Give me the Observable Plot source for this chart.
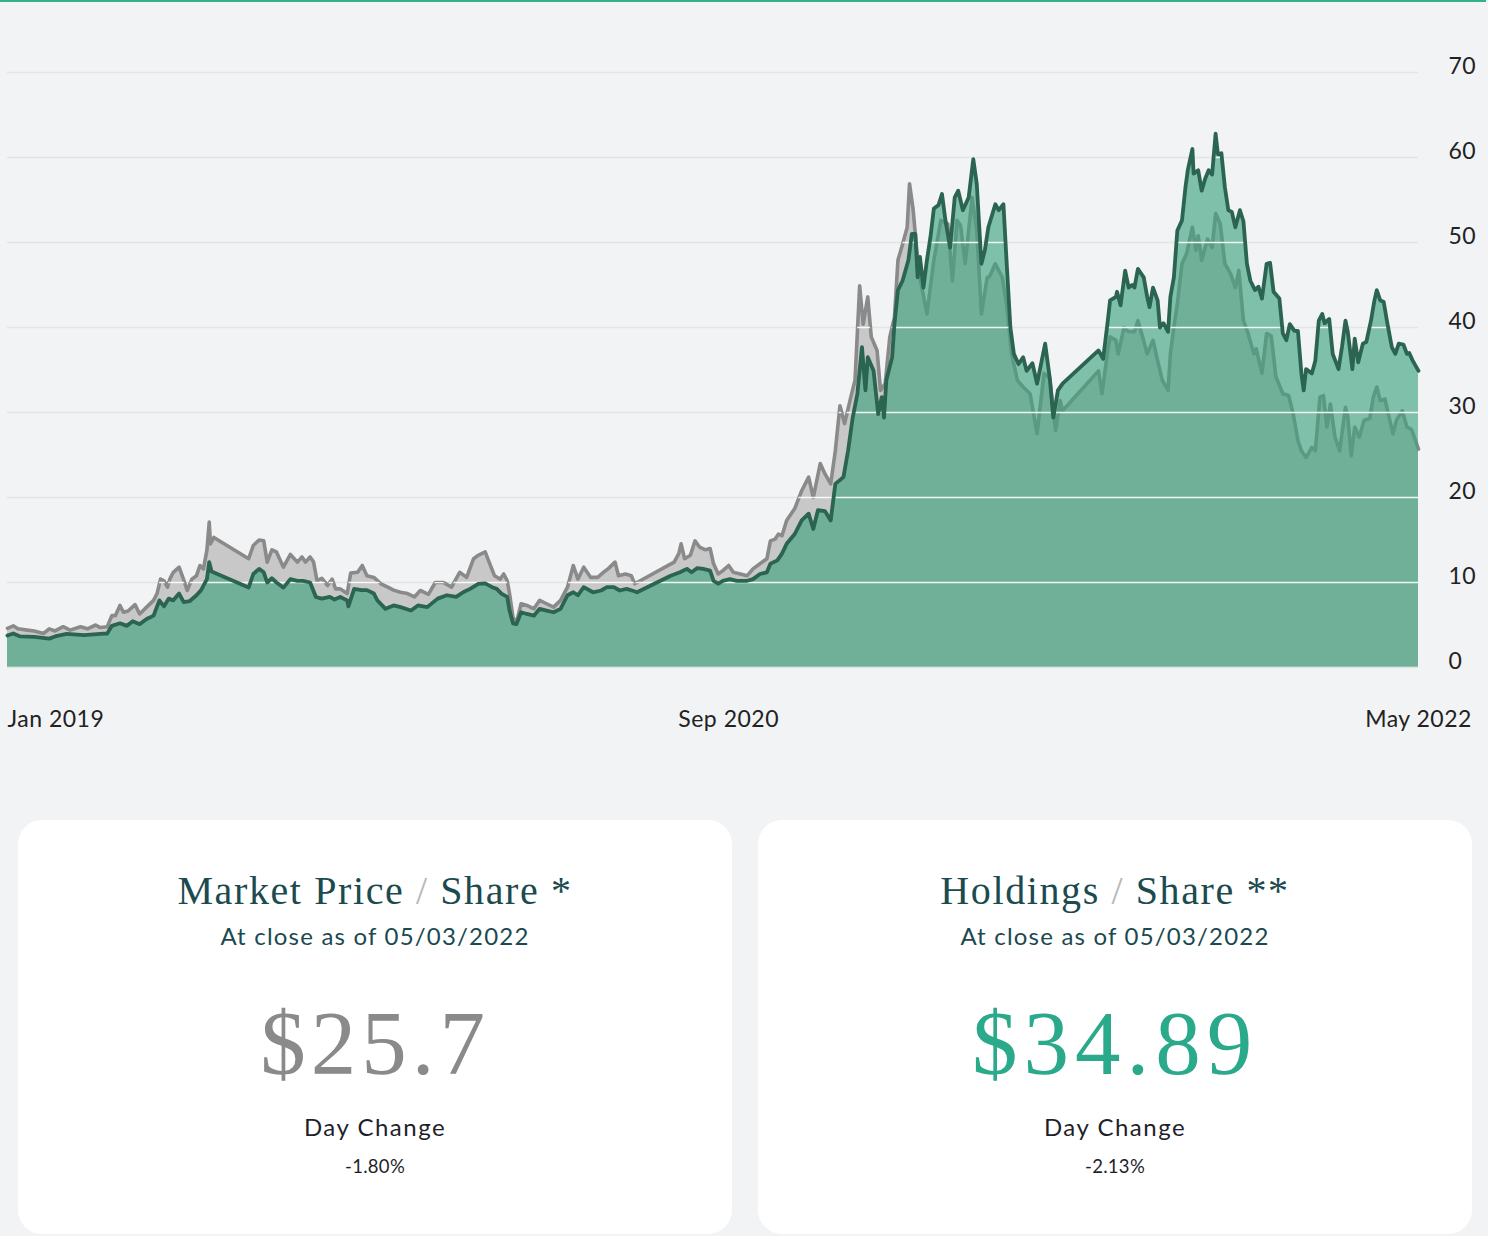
<!DOCTYPE html>
<html>
<head>
<meta charset="utf-8">
<script src="https://cdn.jsdelivr.net/npm/d3@7"></script>
<script src="https://cdn.jsdelivr.net/npm/@observablehq/plot@0.6"></script>
<style>
html, body { margin: 0; padding: 0; background: #f2f3f5; }
body { width: 1488px; height: 1236px; position: relative; overflow: hidden; font-family: Lato, sans-serif; }
#topline { position: absolute; left: 0; top: 0; width: 1486px; height: 2px; background: #35b08f; z-index: 2; }
#chart { position: absolute; left: 0; top: 0; }
.card { position: absolute; top: 820px; width: 714px; height: 414px; background: #ffffff; border-radius: 24px; }
.card div { position: absolute; left: 0; right: 0; text-align: center; white-space: nowrap; line-height: 1; }
.title { font-family: "Liberation Serif", serif; font-size: 40px; color: #1b4a4f; top: 51px; letter-spacing: 1.6px; }
.title .sl { color: #b8b8b8; }
.sub { font-size: 24px; color: #1a4a50; top: 104px; letter-spacing: 1.2px; }
.price { font-family: "Liberation Serif", serif; font-size: 91px; top: 178px; }
.dc { font-size: 24px; color: #1f1f2b; top: 295px; letter-spacing: 1.5px; }
.pct { font-size: 18.5px; color: #1f1f2b; top: 337px; letter-spacing: 0.3px; }
</style>
</head>
<body>
<div id="topline"></div>
<div id="chart"></div>
<div class="card" style="left:18px">
  <div class="title">Market Price <span class="sl">/</span> Share *</div>
  <div class="sub">At close as of 05/03/2022</div>
  <div class="price" style="color:#8a8a8a; letter-spacing:5px">$25.7</div>
  <div class="dc">Day Change</div>
  <div class="pct">-1.80%</div>
</div>
<div class="card" style="left:758px">
  <div class="title">Holdings <span class="sl">/</span> Share **</div>
  <div class="sub">At close as of 05/03/2022</div>
  <div class="price" style="color:#2ba98b; letter-spacing:6px">$34.89</div>
  <div class="dc">Day Change</div>
  <div class="pct">-2.13%</div>
</div>
<script>
// Market price per share (grey series)
const mktDates = ["2019-01-02","2019-01-07","2019-01-11","2019-01-19","2019-01-25","2019-02-02","2019-02-07","2019-02-12","2019-02-19","2019-02-25","2019-03-06","2019-03-12","2019-03-19","2019-03-23","2019-03-29","2019-04-02","2019-04-05","2019-04-09","2019-04-12","2019-04-16","2019-04-22","2019-04-26","2019-05-02","2019-05-08","2019-05-11","2019-05-14","2019-05-17","2019-05-20","2019-05-22","2019-05-25","2019-05-30","2019-06-03","2019-06-06","2019-06-10","2019-06-14","2019-06-17","2019-06-20","2019-06-23","2019-06-25","2019-06-26","2019-06-29","2019-07-29","2019-08-02","2019-08-07","2019-08-11","2019-08-14","2019-08-18","2019-08-22","2019-08-28","2019-09-03","2019-09-09","2019-09-13","2019-09-16","2019-09-20","2019-09-23","2019-09-26","2019-09-30","2019-10-05","2019-10-09","2019-10-12","2019-10-16","2019-10-22","2019-10-25","2019-10-31","2019-11-04","2019-11-08","2019-11-14","2019-11-20","2019-11-26","2019-12-01","2019-12-07","2019-12-13","2019-12-19","2019-12-24","2019-12-31","2020-01-06","2020-01-13","2020-01-20","2020-01-27","2020-02-02","2020-02-08","2020-02-12","2020-02-18","2020-02-22","2020-02-26","2020-03-02","2020-03-05","2020-03-08","2020-03-10","2020-03-13","2020-03-16","2020-03-20","2020-03-25","2020-03-31","2020-04-05","2020-04-11","2020-04-17","2020-04-23","2020-04-29","2020-05-04","2020-05-08","2020-05-13","2020-05-19","2020-05-25","2020-05-30","2020-06-03","2020-06-09","2020-06-12","2020-06-18","2020-06-23","2020-06-26","2020-07-30","2020-08-03","2020-08-05","2020-08-08","2020-08-13","2020-08-17","2020-08-21","2020-08-26","2020-08-30","2020-09-02","2020-09-06","2020-09-10","2020-09-15","2020-09-19","2020-09-25","2020-10-01","2020-10-06","2020-10-12","2020-10-18","2020-10-21","2020-10-25","2020-10-28","2020-10-31","2020-11-04","2020-11-11","2020-11-17","2020-11-23","2020-11-27","2020-12-03","2020-12-07","2020-12-12","2020-12-16","2020-12-20","2020-12-24","2020-12-29","2021-01-02","2021-01-06","2021-01-09","2021-01-13","2021-01-16","2021-01-21","2021-01-24","2021-01-28","2021-02-01","2021-02-05","2021-02-08","2021-02-12","2021-02-16","2021-02-18","2021-02-21","2021-02-24","2021-02-27","2021-03-05","2021-03-11","2021-03-17","2021-03-23","2021-03-27","2021-03-31","2021-04-03","2021-04-07","2021-04-13","2021-04-17","2021-04-21","2021-04-26","2021-04-28","2021-05-03","2021-05-09","2021-05-13","2021-05-17","2021-05-22","2021-05-27","2021-06-02","2021-06-08","2021-06-14","2021-06-19","2021-06-24","2021-06-28","2021-06-30","2021-07-31","2021-08-03","2021-08-08","2021-08-10","2021-08-15","2021-08-17","2021-08-22","2021-08-26","2021-08-31","2021-09-03","2021-09-07","2021-09-11","2021-09-16","2021-09-20","2021-09-24","2021-09-29","2021-10-01","2021-10-04","2021-10-07","2021-10-11","2021-10-15","2021-10-20","2021-10-23","2021-10-25","2021-10-28","2021-11-02","2021-11-06","2021-11-09","2021-11-13","2021-11-17","2021-11-22","2021-11-26","2021-11-29","2021-12-03","2021-12-07","2021-12-12","2021-12-14","2021-12-19","2021-12-23","2021-12-27","2021-12-31","2022-01-06","2022-01-11","2022-01-15","2022-01-19","2022-01-22","2022-01-26","2022-01-31","2022-02-03","2022-02-07","2022-02-10","2022-02-13","2022-02-16","2022-02-20","2022-02-24","2022-03-01","2022-03-03","2022-03-06","2022-03-09","2022-03-13","2022-03-17","2022-03-22","2022-03-25","2022-03-28","2022-03-31","2022-04-04","2022-04-07","2022-04-11","2022-04-14","2022-04-19","2022-04-23","2022-04-27","2022-05-03"];
const mktPrice = [4.6,4.9,4.55,4.4,4.3,4.0,4.55,4.3,4.8,4.4,4.8,4.55,5.0,4.7,4.8,6.1,6.1,7.3,6.5,6.65,7.4,6.3,7.1,7.9,8.7,10.4,10.2,9.45,10.4,11.2,11.8,10.3,9.06,10.4,10.8,12.0,11.6,13.8,17.1,14.55,15.3,12.8,14.35,15.0,14.9,12.4,13.85,13.6,11.8,13.3,12.4,13.0,12.4,13.0,12.4,10.2,10.5,9.65,10.4,9.25,9.25,8.7,11.1,11.2,12.0,10.8,10.6,9.85,9.45,9.1,8.85,8.7,8.3,9.06,8.6,10.0,10.0,9.45,11.2,10.6,12.8,13.2,13.6,12.2,10.8,10.4,11.0,10.2,8.7,5.9,5.3,7.5,7.3,6.9,7.9,7.5,7.1,7.9,9.45,12.0,10.4,11.8,10.6,10.6,11.2,11.6,12.4,10.8,11.0,10.8,9.85,12.4,13.4,14.55,12.8,13.2,14.9,14.15,13.85,14.0,12.2,11.0,11.4,12.0,11.2,11.0,10.8,11.6,12.2,12.8,14.9,15.1,15.7,15.5,17.3,18.7,20.8,22.4,20.0,24.0,22.8,21.6,25.5,30.8,28.7,31.6,33.8,44.9,40.4,43.6,38.9,37.3,32.6,33.4,38.9,41.2,47.9,49.8,51.8,56.9,54.0,49.5,45.9,41.6,47.9,52.6,52.2,45.5,52.6,52.0,47.5,55.3,51.4,41.6,45.9,46.0,47.5,45.9,42.4,36.9,33.8,33.0,32.2,27.5,34.6,34.0,27.9,31.4,30.2,34.9,32.2,37.3,38.9,38.5,36.9,40.0,39.5,39.5,40.8,38.9,36.9,38.5,36.1,33.8,32.6,36.9,40.0,42.8,47.5,48.7,51.8,49.1,50.8,47.9,50.4,49.4,53.4,52.2,47.5,46.3,44.7,46.7,40.8,39.3,36.9,37.5,34.6,39.3,39.0,34.2,32.2,32.0,29.8,26.7,25.5,24.7,25.9,25.5,31.8,32.0,28.3,31.0,27.1,25.5,30.6,29.5,24.9,28.3,27.1,29.1,29.3,31.8,33.0,31.4,31.6,29.8,27.5,29.1,30.2,28.3,28.0,25.7];

// Holdings per share (green series)
const navDates = ["2019-01-02","2019-01-07","2019-01-13","2019-01-25","2019-02-07","2019-02-12","2019-02-22","2019-03-09","2019-03-23","2019-03-29","2019-04-02","2019-04-09","2019-04-15","2019-04-20","2019-04-26","2019-05-02","2019-05-08","2019-05-13","2019-05-17","2019-05-21","2019-05-25","2019-05-30","2019-06-03","2019-06-08","2019-06-14","2019-06-18","2019-06-23","2019-06-25","2019-06-27","2019-07-29","2019-08-02","2019-08-07","2019-08-11","2019-08-14","2019-08-18","2019-08-22","2019-08-28","2019-09-03","2019-09-09","2019-09-14","2019-09-20","2019-09-25","2019-09-30","2019-10-07","2019-10-11","2019-10-16","2019-10-22","2019-10-23","2019-10-28","2019-11-03","2019-11-08","2019-11-14","2019-11-17","2019-11-24","2019-12-01","2019-12-07","2019-12-16","2019-12-22","2019-12-30","2020-01-08","2020-01-16","2020-01-24","2020-01-30","2020-02-05","2020-02-12","2020-02-18","2020-02-24","2020-02-28","2020-03-03","2020-03-08","2020-03-10","2020-03-13","2020-03-16","2020-03-20","2020-03-25","2020-03-31","2020-04-05","2020-04-11","2020-04-17","2020-04-23","2020-04-29","2020-05-04","2020-05-08","2020-05-13","2020-05-21","2020-05-28","2020-06-02","2020-06-08","2020-06-13","2020-06-19","2020-06-25","2020-06-28","2020-07-27","2020-08-04","2020-08-10","2020-08-14","2020-08-19","2020-08-24","2020-08-30","2020-09-02","2020-09-06","2020-09-10","2020-09-16","2020-09-22","2020-10-01","2020-10-06","2020-10-12","2020-10-18","2020-10-21","2020-10-27","2020-10-31","2020-11-04","2020-11-11","2020-11-17","2020-11-23","2020-11-27","2020-12-01","2020-12-07","2020-12-12","2020-12-16","2020-12-23","2020-12-27","2020-12-31","2021-01-04","2021-01-08","2021-01-11","2021-01-13","2021-01-18","2021-01-22","2021-01-25","2021-01-27","2021-01-29","2021-02-03","2021-02-05","2021-02-08","2021-02-12","2021-02-17","2021-02-20","2021-02-23","2021-02-25","2021-02-27","2021-03-02","2021-03-05","2021-03-08","2021-03-11","2021-03-15","2021-03-18","2021-03-21","2021-03-25","2021-03-29","2021-04-01","2021-04-05","2021-04-10","2021-04-14","2021-04-17","2021-04-21","2021-04-24","2021-04-27","2021-05-03","2021-05-06","2021-05-10","2021-05-13","2021-05-16","2021-05-19","2021-05-23","2021-05-27","2021-05-30","2021-06-04","2021-06-08","2021-06-15","2021-06-19","2021-06-22","2021-06-26","2021-06-30","2021-07-31","2021-08-04","2021-08-08","2021-08-10","2021-08-15","2021-08-16","2021-08-19","2021-08-23","2021-08-26","2021-08-29","2021-08-31","2021-09-03","2021-09-05","2021-09-08","2021-09-11","2021-09-13","2021-09-16","2021-09-20","2021-09-22","2021-09-25","2021-09-29","2021-10-01","2021-10-04","2021-10-07","2021-10-11","2021-10-14","2021-10-16","2021-10-20","2021-10-21","2021-10-25","2021-10-28","2021-10-31","2021-11-03","2021-11-06","2021-11-09","2021-11-11","2021-11-14","2021-11-17","2021-11-20","2021-11-23","2021-11-26","2021-11-30","2021-12-03","2021-12-06","2021-12-09","2021-12-13","2021-12-16","2021-12-19","2021-12-23","2021-12-26","2021-12-29","2022-01-03","2022-01-06","2022-01-09","2022-01-12","2022-01-16","2022-01-19","2022-01-22","2022-01-24","2022-01-26","2022-01-31","2022-02-03","2022-02-06","2022-02-09","2022-02-11","2022-02-15","2022-02-18","2022-02-23","2022-02-26","2022-03-01","2022-03-03","2022-03-07","2022-03-09","2022-03-12","2022-03-16","2022-03-19","2022-03-23","2022-03-26","2022-03-28","2022-03-31","2022-04-03","2022-04-06","2022-04-10","2022-04-13","2022-04-16","2022-04-20","2022-04-23","2022-04-25","2022-04-28","2022-05-03"];
const navValue = [3.76,4.0,3.65,3.6,3.4,3.65,3.96,3.8,3.96,4.0,4.9,5.2,4.9,5.45,5.1,5.7,6.1,7.9,7.2,8.1,7.9,8.7,7.7,7.8,8.5,9.1,10.4,12.4,11.3,9.4,11.0,11.6,11.2,10.0,10.5,10.0,9.4,10.4,10.2,10.2,10.0,8.3,8.1,8.3,8.0,8.3,7.9,7.2,9.25,9.1,9.1,8.7,7.9,6.9,7.3,7.1,6.7,7.3,7.1,8.1,8.5,8.3,8.85,9.25,9.85,9.9,9.45,9.25,8.7,8.3,6.7,5.2,5.1,6.5,6.3,6.1,6.9,6.7,6.5,6.9,8.5,8.85,8.5,9.45,8.85,9.06,9.45,9.45,9.06,9.25,9.0,8.85,10.8,11.2,11.6,11.2,11.7,11.6,11.4,10.2,9.85,10.2,10.4,10.2,10.2,10.4,11.0,11.2,12.2,12.6,13.4,14.55,15.7,17.3,18.1,16.3,18.5,18.4,17.3,21.6,22.4,25.5,29.4,32.2,37.7,32.6,36.5,34.9,29.8,31.8,29.4,33.8,36.5,40.4,44.4,45.5,47.9,51.0,51.0,45.9,48.3,44.7,47.9,50.6,54.0,54.4,55.7,52.6,49.4,55.3,56.1,53.8,55.3,59.8,56.9,47.5,49.1,51.8,54.5,53.8,54.5,47.1,40.0,36.9,35.7,36.5,34.9,35.8,33.4,38.1,34.0,29.4,32.6,33.4,37.3,36.3,40.8,43.2,43.6,44.2,42.6,46.7,44.7,45.0,44.7,46.9,46.5,45.9,43.6,42.4,44.7,43.2,40.0,40.5,39.5,43.6,45.9,51.4,52.6,56.5,58.5,61.0,58.1,58.5,56.1,57.5,58.5,58.0,62.8,60.4,60.5,56.5,53.8,53.6,51.8,53.8,52.5,47.5,45.5,44.4,44.8,43.4,47.5,47.6,44.2,43.4,39.3,38.5,40.4,39.6,39.6,34.6,32.6,35.1,34.6,36.1,40.8,41.6,40.5,41.0,36.9,35.1,37.7,40.8,39.5,35.1,38.7,35.9,38.1,38.3,40.8,43.2,44.4,43.2,43.0,40.6,37.7,36.9,38.1,38.0,36.9,37.0,36.1,34.9];

// Axis ticks
const yTicks = [0, 10, 20, 30, 40, 50, 60, 70];
const xTickDates = ["2019-01-02", "2020-09-15", "2022-05-03"];
const xTickLabels = ["Jan 2019", "Sep 2020", "May 2022"];

const parse = d3.utcParse("%Y-%m-%d");
const market = mktDates.map((d, i) => ({date: parse(d), value: mktPrice[i]}));
const holdings = navDates.map((d, i) => ({date: parse(d), value: navValue[i]}));

const svg = Plot.plot({
  width: 1488,
  height: 780,
  marginLeft: 7,
  marginRight: 70,
  marginTop: 72,
  marginBottom: 113,
  style: {background: "transparent", fontFamily: "Lato, sans-serif", fontSize: "22px", color: "#222"},
  x: {type: "utc", domain: [parse("2019-01-02"), parse("2022-05-03")], axis: null},
  y: {domain: [0, 70], axis: null},
  marks: [
    Plot.ruleY(yTicks, {stroke: "#e2e4e7", strokeWidth: 1.5}),
    Plot.areaY(market, {x: "date", y: "value", fill: "#c8c8c8"}),
    Plot.lineY(market, {x: "date", y: "value", stroke: "#8a8a8a", strokeWidth: 3.6, strokeLinejoin: "round"}),
    Plot.areaY(holdings, {x: "date", y: "value", fill: "#3fa27f", fillOpacity: 0.64}),
    Plot.ruleY(yTicks, {stroke: "#ffffff", strokeWidth: 1.5, strokeOpacity: 0.9}),
    Plot.lineY(holdings, {x: "date", y: "value", stroke: "#2b6451", strokeWidth: 3.8, strokeLinejoin: "round"}),
    Plot.text(yTicks, {y: d => d, text: d => String(d), frameAnchor: "right", dx: 30, dy: -6, textAnchor: "start", fontSize: 23, fill: "#222"}),
    Plot.text([0], {x: i => parse(xTickDates[i]), text: i => xTickLabels[i], frameAnchor: "bottom", dy: 59, textAnchor: "start", fontSize: 23, fill: "#222", style: "letter-spacing:0.4px"}),
    Plot.text([1, 2], {x: i => parse(xTickDates[i]), text: i => xTickLabels[i], frameAnchor: "bottom", dy: 59, textAnchor: "middle", fontSize: 23, fill: "#222"})
  ]
});

// Clip the white gridlines to the filled areas
const ns = "http://www.w3.org/2000/svg";
const defs = document.createElementNS(ns, "defs");
const cp = document.createElementNS(ns, "clipPath");
cp.setAttribute("id", "areaClip");
svg.querySelectorAll('g[aria-label="area"]').forEach(g => {
  g.querySelectorAll("path").forEach(p => {
    const c = document.createElementNS(ns, "path");
    c.setAttribute("d", p.getAttribute("d"));
    if (g.getAttribute("transform")) c.setAttribute("transform", g.getAttribute("transform"));
    cp.appendChild(c);
  });
});
defs.appendChild(cp);
svg.insertBefore(defs, svg.firstChild);
const rules = svg.querySelectorAll('g[aria-label^="rule"]');
if (rules.length > 1) {
  const white = rules[1];
  const wrap = document.createElementNS(ns, "g");
  wrap.setAttribute("clip-path", "url(#areaClip)");
  white.parentNode.insertBefore(wrap, white);
  wrap.appendChild(white);
}
svg.querySelectorAll('g[aria-label="text"] text').forEach(t => t.style.letterSpacing = "0.5px");
document.getElementById("chart").appendChild(svg);
</script>
</body>
</html>
